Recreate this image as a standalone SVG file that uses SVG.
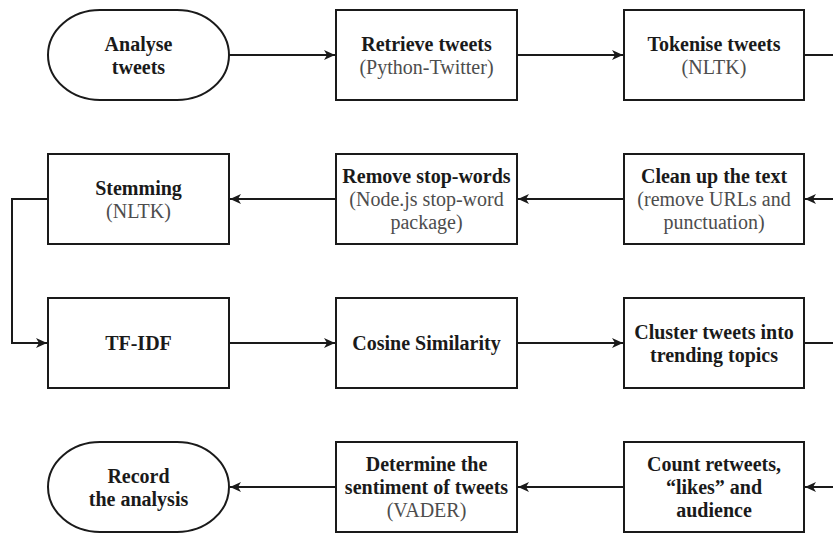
<svg xmlns="http://www.w3.org/2000/svg" width="833" height="533" viewBox="0 0 833 533">
<style>
.box{fill:#fff;stroke:#1a1a1a;stroke-width:2}
.t{font-family:"Liberation Serif","Times New Roman",serif;font-size:20px;text-anchor:middle}
.b{font-weight:bold;fill:#1a1a1a}
.g{fill:#4d4d4d}
.c{fill:none;stroke:#1a1a1a;stroke-width:2}
</style>
<defs>
<marker id="arr" markerUnits="userSpaceOnUse" markerWidth="12" markerHeight="11" refX="11" refY="5.5" orient="auto">
<path d="M0,0.5 L11,5.5 L0,10.5 L3,5.5 Z" fill="#1a1a1a"/>
</marker>
</defs>
<rect width="833" height="533" fill="#fff"/>
<g id="connectors">
<path class="c" d="M229,55 H335" marker-end="url(#arr)"/>
<path class="c" d="M517,55 H623" marker-end="url(#arr)"/>
<path class="c" d="M804,55 H834"/>
<path class="c" d="M834,199 H805" marker-end="url(#arr)"/>
<path class="c" d="M624,199 H518" marker-end="url(#arr)"/>
<path class="c" d="M336,199 H230" marker-end="url(#arr)"/>
<path class="c" d="M48,199 H12 V343 H47" marker-end="url(#arr)"/>
<path class="c" d="M229,343 H335" marker-end="url(#arr)"/>
<path class="c" d="M517,343 H623" marker-end="url(#arr)"/>
<path class="c" d="M804,343 H834"/>
<path class="c" d="M834,487 H805" marker-end="url(#arr)"/>
<path class="c" d="M624,487 H518" marker-end="url(#arr)"/>
<path class="c" d="M336,487 H230" marker-end="url(#arr)"/>
</g>
<g id="analyse">
<rect class="box" x="48" y="10" width="181" height="90" rx="52" ry="45"/>
<text class="t b" x="138.5" y="51">Analyse</text>
<text class="t b" x="138.5" y="73.5">tweets</text>
</g>
<g id="retrieve">
<rect class="box" x="336" y="10" width="181" height="90"/>
<text class="t b" x="426.5" y="51">Retrieve tweets</text>
<text class="t g" x="426.5" y="73.5">(Python-Twitter)</text>
</g>
<g id="tokenise">
<rect class="box" x="624" y="10" width="180" height="90"/>
<text class="t b" x="714" y="51">Tokenise tweets</text>
<text class="t g" x="714" y="73.5">(NLTK)</text>
</g>
<g id="clean">
<rect class="box" x="624" y="154" width="180" height="90"/>
<text class="t b" x="714" y="183">Clean up the text</text>
<text class="t g" x="714" y="206">(remove URLs and</text>
<text class="t g" x="714" y="229">punctuation)</text>
</g>
<g id="stopwords">
<rect class="box" x="336" y="154" width="181" height="90"/>
<text class="t b" x="426.5" y="183">Remove stop-words</text>
<text class="t g" x="426.5" y="206">(Node.js stop-word</text>
<text class="t g" x="426.5" y="229">package)</text>
</g>
<g id="stemming">
<rect class="box" x="48" y="154" width="181" height="90"/>
<text class="t b" x="138.5" y="195">Stemming</text>
<text class="t g" x="138.5" y="217.5">(NLTK)</text>
</g>
<g id="tfidf">
<rect class="box" x="48" y="298" width="181" height="90"/>
<text class="t b" x="138.5" y="350">TF-IDF</text>
</g>
<g id="cosine">
<rect class="box" x="336" y="298" width="181" height="90"/>
<text class="t b" x="426.5" y="350">Cosine Similarity</text>
</g>
<g id="cluster">
<rect class="box" x="624" y="298" width="180" height="90"/>
<text class="t b" x="714" y="339">Cluster tweets into</text>
<text class="t b" x="714" y="361.5">trending topics</text>
</g>
<g id="count">
<rect class="box" x="624" y="442" width="180" height="90"/>
<text class="t b" x="714" y="471">Count retweets,</text>
<text class="t b" x="714" y="494">“likes” and</text>
<text class="t b" x="714" y="517">audience</text>
</g>
<g id="sentiment">
<rect class="box" x="336" y="442" width="181" height="90"/>
<text class="t b" x="426.5" y="471">Determine the</text>
<text class="t b" x="426.5" y="494">sentiment of tweets</text>
<text class="t g" x="426.5" y="517">(VADER)</text>
</g>
<g id="record">
<rect class="box" x="48" y="442" width="181" height="90" rx="52" ry="45"/>
<text class="t b" x="138.5" y="483">Record</text>
<text class="t b" x="138.5" y="505.5">the analysis</text>
</g>
</svg>
